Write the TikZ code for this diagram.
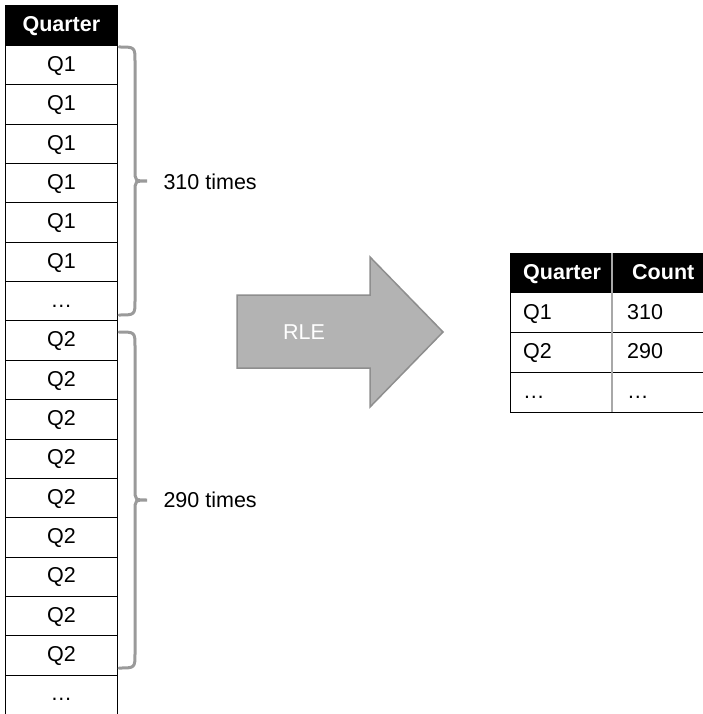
\documentclass[tikz,border=0pt]{standalone}
\usepackage{fontspec}
\setmainfont{Liberation Sans}
\definecolor{bracegray}{HTML}{9A9A9A}
\definecolor{arrowfill}{HTML}{B3B3B3}
\definecolor{arrowedge}{HTML}{8E8E8E}
\definecolor{sepgray}{HTML}{A8A8A8}
\tikzset{
  txt/.style={font=\fontsize{21.5}{25}\selectfont},
  cell/.style={txt, draw=black, line width=0.8pt, minimum width=112pt, minimum height=39.35pt, inner sep=0pt, anchor=north west, text height=15.5pt, text depth=3pt},
  hdr/.style={cell, fill=black, text=white, font=\fontsize{21.5}{25}\selectfont\bfseries, minimum height=40pt},
  rcell/.style={txt, minimum height=39.75pt, inner sep=0pt, anchor=north west, text height=15.5pt, text depth=3pt},
  rhdr/.style={rcell, fill=black, text=white, font=\fontsize{21.5}{25}\selectfont\bfseries},
  bracestyle/.style={draw=bracegray, line width=3pt, line cap=round},
  gridline/.style={draw=black, line width=0.8pt},
}
\begin{document}
\begin{tikzpicture}[x=1pt,y=-1pt]
\useasboundingbox (0,0) rectangle (703,714);

% ---------- left table ----------
\node[hdr] (lh) at (5,5) {Quarter};
\foreach \t [count=\i] in {Q1,Q1,Q1,Q1,Q1,Q1,…,Q2,Q2,Q2,Q2,Q2,Q2,Q2,Q2,Q2}{
  \node[cell] (l\i) at ({5},{45+(\i-1)*39.35}) {\t};
}
\node[cell, draw=none] (l17) at (5,674.6) {…};
\draw[gridline] (l17.north west) -- (l17.south west);
\draw[gridline] (l17.north east) -- (l17.south east);

% ---------- braces ----------
\draw[bracestyle] (119,47) .. controls (135,47) .. (135,62) -- (135,170)
  .. controls (135,181) .. (147,181) .. controls (135,181) .. (135,192)
  -- (135,300) .. controls (135,315) .. (119,315);
\node[txt, anchor=west] (t310) at (160,182) {310 times};

\draw[bracestyle] (119,332) .. controls (135,332) .. (135,347) -- (135,489)
  .. controls (135,500) .. (147,500) .. controls (135,500) .. (135,511)
  -- (135,653) .. controls (135,668) .. (119,668);
\node[txt, anchor=west] (t290) at (160,500) {290 times};

% ---------- arrow ----------
\draw[fill=arrowfill, draw=arrowedge, line width=1.5pt, line join=miter]
  (237,295) -- (370,295) -- (370,257) -- (443,332) -- (370,407) -- (370,368) -- (237,368) -- cycle;
\node[txt, text=white] (rle) at (304,332) {RLE};

% ---------- right table ----------
\node[rhdr, minimum width=102pt, text width=76pt, inner xsep=13pt, align=left] (rq) at (510,253) {Quarter};
\node[rhdr, minimum width=93pt, text width=73pt, inner xsep=20pt, align=left] (rc) at (612,253) {Count};
\node[rcell, minimum width=102pt, text width=76pt, inner xsep=13pt, align=left] (r1a) at (510,292.75) {Q1};
\node[rcell, minimum width=93pt, text width=63pt, inner xsep=15pt, align=left] (r1b) at (612,292.75) {310};
\node[rcell, minimum width=102pt, text width=76pt, inner xsep=13pt, align=left] (r2a) at (510,332.5) {Q2};
\node[rcell, minimum width=93pt, text width=63pt, inner xsep=15pt, align=left] (r2b) at (612,332.5) {290};
\node[rcell, minimum width=102pt, text width=76pt, inner xsep=13pt, align=left] (r3a) at (510,372.25) {…};
\node[rcell, minimum width=93pt, text width=63pt, inner xsep=15pt, align=left] (r3b) at (612,372.25) {…};

\draw[gridline] (r1a.north west) -- (r1b.north east);
\draw[gridline] (r2a.north west) -- (r2b.north east);
\draw[gridline] (r3a.north west) -- (r3b.north east);
\draw[gridline] (r3a.south west) -- (r3b.south east);
\draw[gridline] (rq.north west) -- (r3a.south west);
\draw[draw=sepgray, line width=2pt] (rq.north east) -- (r3a.south east);
\end{tikzpicture}
\end{document}
